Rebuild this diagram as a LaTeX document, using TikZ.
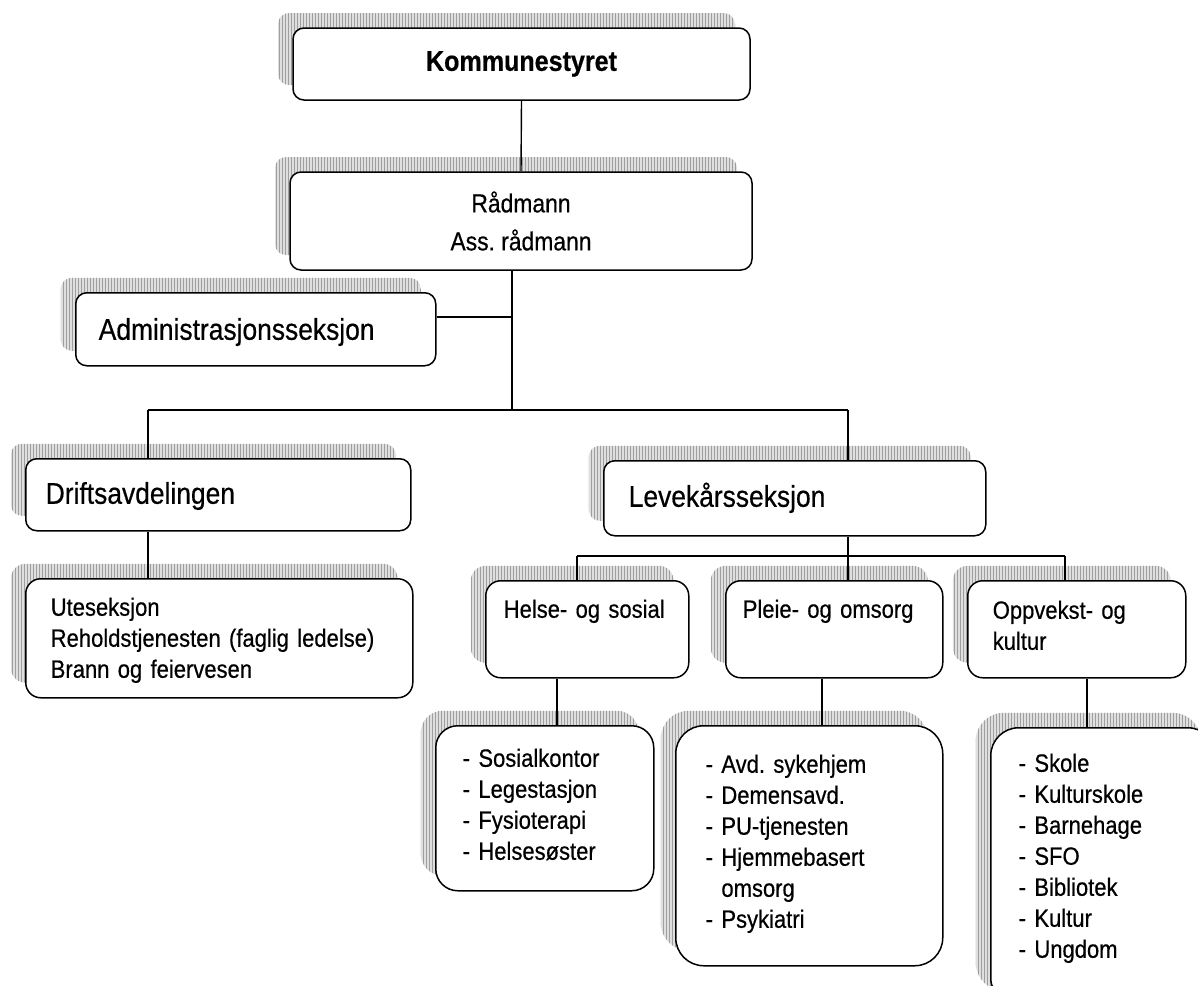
\documentclass[tikz,border=0pt]{standalone}
\usepackage{fontspec}
\setmainfont{Liberation Sans}[FakeStretch=0.88,FakeBold=0.5]
\usetikzlibrary{shadows,patterns}
\frenchspacing
\newcommand\tettord{\spaceskip .24em plus .08em minus .04em\relax}

\begin{document}
\begin{tikzpicture}[x=1pt,y=-1pt,
  skygge/.style={drop shadow={shadow xshift=-15pt,shadow yshift=15pt,opacity=1,
    fill=gray!25,postaction={pattern=vertical lines,pattern color=gray!75}}},
  boks/.style={draw,line width=1.5pt,fill=white,rounded corners=11pt,skygge,
    anchor=north west,align=left,inner ysep=0pt},
  seksjon/.style={boks,font={\fontsize{30}{35}\selectfont\tettord}},
  enhet/.style={boks,font={\fontsize{25}{31}\selectfont\tettord},rounded corners=15pt},
  liste/.style={enhet,rounded corners=28pt},
  link/.style={line width=1.4pt}]
\useasboundingbox (0,0) rectangle (1198,985);

% ledelse
\node[boks,anchor=center,align=center,inner sep=0pt,minimum width=457pt,minimum height=72pt,
  font={\fontsize{28.5}{34}\selectfont\bfseries}] (komm) at (521.5,64) {Kommunestyret};
\node[boks,anchor=center,align=center,inner sep=0pt,minimum width=462pt,minimum height=98pt,
  font={\fontsize{26}{38}\selectfont\tettord}] (radmann) at (521,221) {Rådmann\\Ass. rådmann};

% seksjoner
\node[seksjon,inner xsep=23pt,text width=314pt,text height=47pt,text depth=26pt]
  (admin) at (75,292) {Administrasjonsseksjon};
\node[seksjon,inner xsep=20pt,text width=345pt,text height=45pt,text depth=27pt]
  (drifts) at (25,458) {Driftsavdelingen};
\node[seksjon,inner xsep=25pt,text width=332pt,text height=46pt,text depth=29pt]
  (levekar) at (603,460) {Levekårsseksjon};

% enheter
\node[enhet,inner xsep=25pt,text width=337pt,text height=37pt,text depth=82pt]
  (ute) at (25,578) {Uteseksjon\\Reholdstjenesten (faglig ledelse)\\Brann og feiervesen};
\node[enhet,inner xsep=18pt,text width=167pt,text height=37pt,text depth=60pt]
  (helse) at (485,580) {Helse- og sosial};
\node[enhet,inner xsep=17pt,text width=183pt,text height=37pt,text depth=60pt]
  (pleie) at (725,580) {Pleie- og omsorg};
\node[enhet,inner xsep=25pt,text width=168pt,text height=38pt,text depth=59pt]
  (oppvekst) at (967,580) {Oppvekst- og\\kultur};

% lister
\node[liste,rounded corners=22pt,inner xsep=27pt,text width=164pt,text height=41pt,text depth=124pt]
  (helseliste) at (435,725) {- Sosialkontor\\- Legestasjon\\- Fysioterapi\\- Helsesøster};
\node[liste,inner xsep=30pt,text width=207pt,text height=47pt,text depth=193pt]
  (pleieliste) at (675,725) {- Avd. sykehjem\\- Demensavd.\\- PU-tjenesten\\- Hjemmebasert\\
  \hphantom{- }omsorg\\- Psykiatri};
\node[liste,inner xsep=28pt,text width=169pt,text height=44pt,text depth=234pt]
  (oppvekstliste) at (990,727) {- Skole\\- Kulturskole\\- Barnehage\\- SFO\\- Bibliotek\\- Kultur\\- Ungdom};

% linjer
\coordinate (spine) at (512,410);
\coordinate (adminjoin) at (512,317);
\coordinate (busL) at (148,410);
\coordinate (busR) at (848,410);
\coordinate (subL) at (577,556);
\coordinate (subM) at (848,556);
\coordinate (subR) at (1065,556);
\coordinate (helsedrop) at (557,700);
\coordinate (pleiedrop) at (822,700);
\coordinate (oppvekstdrop) at (1087,700);

\draw[link] (komm.south) -- (radmann.north);
\draw[link] (spine |- radmann.south) -- (spine);
\draw[link] (admin.east |- adminjoin) -- (adminjoin);
\draw[link] (busL) -- (busR);
\draw[link] (busL) -- (busL |- drifts.north);
\draw[link] (busR) -- (busR |- levekar.north);
\draw[link] (busL |- drifts.south) -- (busL |- ute.north);
\draw[link] (subM |- levekar.south) -- (subM);
\draw[link] (subL) -- (subR);
\draw[link] (subL) -- (subL |- helse.north);
\draw[link] (subM) -- (subM |- pleie.north);
\draw[link] (subR) -- (subR |- oppvekst.north);
\draw[link] (helsedrop |- helse.south) -- (helsedrop |- helseliste.north);
\draw[link] (pleiedrop |- pleie.south) -- (pleiedrop |- pleieliste.north);
\draw[link] (oppvekstdrop |- oppvekst.south) -- (oppvekstdrop |- oppvekstliste.north);
\end{tikzpicture}
\end{document}
